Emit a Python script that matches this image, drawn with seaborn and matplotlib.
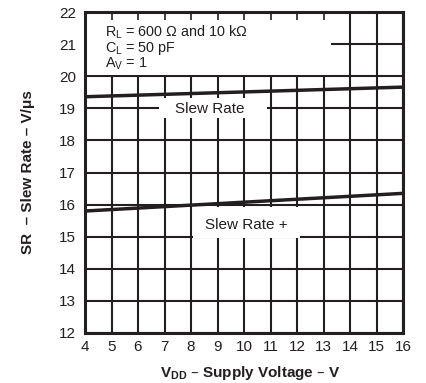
# -*- coding: utf-8 -*-
"""SR vs supply voltage (slew rate curves)"""
import pandas as pd
import seaborn as sns
import matplotlib
matplotlib.use('Agg')
import matplotlib.pyplot as plt
from matplotlib.patches import Rectangle

sns.set_style('white')
plt.rcParams['font.family'] = ['Liberation Sans', 'DejaVu Sans']
plt.rcParams['mathtext.default'] = 'regular'

# data
vdd = [4, 16]
sr_minus = [19.36, 19.66]
sr_plus = [15.80, 16.35]
x_ticks = list(range(4, 17))
y_ticks = list(range(12, 23))
notes = ['R$_L$ = 600 Ω and 10 kΩ', 'C$_L$ = 50 pF', 'A$_V$ = 1']

df = pd.DataFrame({
    'VDD': vdd + vdd,
    'SR': sr_minus + sr_plus,
    'curve': ['Slew Rate –'] * 2 + ['Slew Rate +'] * 2,
})

ink = '#231f20'
fig = plt.figure(figsize=(4.26, 3.83), dpi=100)
ax = fig.add_axes([85 / 426, 1 - 333 / 383, 318 / 426, 321 / 383])

# grid drawn by hand so the white label boxes can sit on top of it
for xv in x_ticks:
    ax.axvline(xv, color=ink, lw=1.5, zorder=1)
for yv in y_ticks:
    ax.axhline(yv, color=ink, lw=1.5, zorder=1)

# blank areas for the notes and the curve labels
ax.add_patch(Rectangle((4, 20.04), 9.27, 1.96, fc='white', ec='none', zorder=1.5))
ax.add_patch(Rectangle((6.78, 18.70), 4.07, 0.62, fc='white', ec='none', zorder=1.5))
ax.add_patch(Rectangle((8.06, 14.96), 4.04, 0.95, fc='white', ec='none', zorder=1.5))

sns.lineplot(data=df, x='VDD', y='SR', units='curve', estimator=None,
             color=ink, lw=2.5, ax=ax, zorder=3, legend=False)

ax.text(8.7, 18.97, 'Slew Rate', ha='center', va='center', fontsize=11,
        color=ink, zorder=4)
ax.text(10.08, 15.36, 'Slew Rate +', ha='center', va='center', fontsize=11,
        color=ink, zorder=4)
for txt, yb in zip(notes, [21.23, 20.76, 20.26]):
    ax.text(4.74, yb, txt, ha='left', va='baseline', fontsize=10.4,
            color=ink, zorder=4)

ax.set_xlim(4, 16)
ax.set_ylim(12, 22)
ax.set_xticks(x_ticks)
ax.set_yticks(y_ticks)
ax.set_axisbelow(False)
ax.tick_params(direction='in', length=5.5, width=1.2, colors=ink,
               top=True, right=True, labelsize=11, labelcolor=ink)
ax.tick_params(axis='x', pad=5)
ax.tick_params(axis='y', pad=6.5)
for sp in ax.spines.values():
    sp.set_linewidth(2.2)
    sp.set_color(ink)
    sp.set_zorder(5)

ax.set_xlabel('V$_{DD}$ – Supply Voltage – V', fontsize=11, fontweight='bold',
              color=ink)
ax.set_ylabel('SR  – Slew Rate – V/μs', fontsize=11, fontweight='bold',
              color=ink)
ax.xaxis.set_label_coords(0.52, -0.098)
ax.yaxis.set_label_coords(-0.158, 0.5)

fig.savefig('out.png', dpi=100)
